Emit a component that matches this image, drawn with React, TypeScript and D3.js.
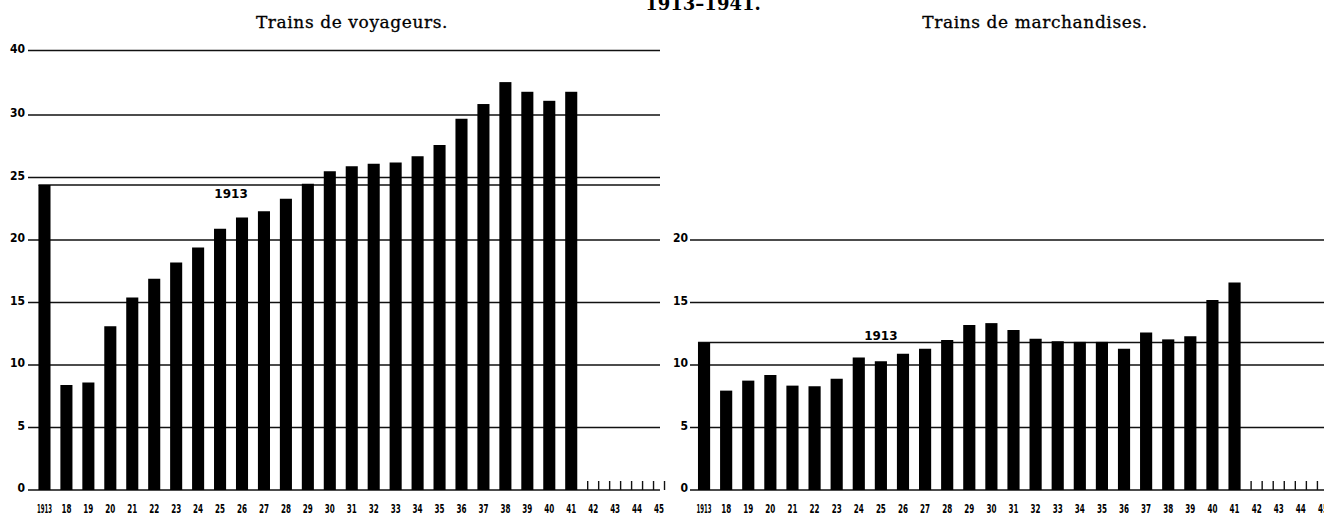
import React, { useEffect, useRef } from "react";
import * as d3 from "d3";

// Categories: 1913 then 1918..1945 (only up to 1941 carry bars)
const years = [
  "1913", "18", "19", "20", "21", "22", "23", "24", "25", "26", "27", "28", "29", "30",
  "31", "32", "33", "34", "35", "36", "37", "38", "39", "40", "41", "42", "43", "44", "45",
];
const emptyYears = ["42", "43", "44", "45"];

// Trains de voyageurs
const passengerValues = [
  24.4, 8.4, 8.6, 13.1, 15.4, 16.9, 18.2, 19.4, 20.9, 21.8, 22.3, 23.3, 24.5, 25.5,
  25.9, 26.1, 26.2, 26.7, 27.6, 29.7, 31.7, 35.1, 33.6, 32.2, 33.6,
];
const passengerTicks = [0, 5, 10, 15, 20, 25, 30, 40];
const passenger1913 = 24.4;

// Trains de marchandises
const freightValues = [
  11.8, 7.95, 8.75, 9.2, 8.35, 8.3, 8.9, 10.6, 10.3, 10.9, 11.3, 12.0, 13.2, 13.35,
  12.8, 12.1, 11.9, 11.85, 11.85, 11.3, 12.6, 12.05, 12.3, 15.2, 16.6,
];
const freightTicks = [0, 5, 10, 15, 20];
const freight1913 = 11.8;

const labelFont = "'DejaVu Sans Condensed', 'Liberation Sans Narrow', 'DejaVu Sans', sans-serif";
const titleFont = "'DejaVu Serif', 'Liberation Serif', serif";

const App = () => {
  const chartRef = useRef(null);

  useEffect(() => {
    d3.select(chartRef.current).select("svg").remove();

    const width = 1324;
    const height = 515;
    const baseY = 490;

    const svg = d3
      .select(chartRef.current)
      .append("svg")
      .attr("width", width)
      .attr("height", height)
      .style("position", "absolute")
      .style("left", "0px")
      .style("top", "0px")
      .style("background", "#fff");

    // Main title, cut at the top edge
    svg.append("text")
      .attr("x", 703)
      .attr("y", 10)
      .attr("text-anchor", "middle")
      .style("font-family", titleFont)
      .style("font-size", "18px")
      .style("font-weight", "bold")
      .text("1913–1941.");

    const drawPanel = (opts) => {
      const { title, titleX, values, ticks, yScale, xRange, gridX, labelX, ref1913, label1913, labelAbove } = opts;

      const g = svg.append("g");

      const xScale = d3.scaleBand()
        .domain(years)
        .range(xRange)
        .paddingInner(0.45)
        .paddingOuter(0.225);
      const bw = xScale.bandwidth();
      const step = xScale.step();

      g.append("text")
        .attr("x", titleX)
        .attr("y", 28)
        .attr("text-anchor", "middle")
        .style("font-family", titleFont)
        .style("font-size", "17px")
        .style("letter-spacing", "0.6px")
        .attr("stroke", "#000")
        .attr("stroke-width", 0.3)
        .text(title);

      // Grid lines and y labels
      ticks.forEach((t) => {
        const y = yScale(t);
        g.append("line")
          .attr("x1", gridX[0])
          .attr("x2", gridX[1])
          .attr("y1", y)
          .attr("y2", y)
          .attr("stroke", "#111")
          .attr("stroke-width", 1.4);
        g.append("text")
          .attr("x", labelX)
          .attr("y", y + 2)
          .attr("text-anchor", "end")
          .style("font-family", labelFont)
          .style("font-size", "12px")
          .style("font-weight", "bold")
          .text(t);
      });

      // 1913 reference line
      const y13 = yScale(ref1913);
      g.append("line")
        .attr("x1", xScale("1913"))
        .attr("x2", gridX[1])
        .attr("y1", y13)
        .attr("y2", y13)
        .attr("stroke", "#111")
        .attr("stroke-width", 1.4);
      g.append("text")
        .attr("x", xScale(label1913) + bw / 2 + opts.labelShift * step)
        .attr("y", labelAbove ? y13 - 3 : y13 + 13)
        .attr("text-anchor", "middle")
        .style("font-family", "'DejaVu Sans', sans-serif")
        .style("font-size", "12px")
        .style("font-weight", "bold")
        .text("1913");

      // Bars
      g.selectAll(".bar")
        .data(values)
        .enter()
        .append("rect")
        .attr("x", (d, i) => xScale(years[i]))
        .attr("y", (d) => yScale(d))
        .attr("width", bw)
        .attr("height", (d) => baseY - yScale(d))
        .attr("fill", "#000");

      // Small ticks for the years still to come
      emptyYears.forEach((yr) => {
        const c = xScale(yr) + bw / 2;
        [c - step / 4, c + step / 4].forEach((tx) => {
          g.append("line")
            .attr("x1", tx)
            .attr("x2", tx)
            .attr("y1", baseY)
            .attr("y2", baseY - 9)
            .attr("stroke", "#111")
            .attr("stroke-width", 1.4);
        });
      });

      // X labels
      years.forEach((yr) => {
        g.append("text")
          .attr("x", xScale(yr) + bw / 2)
          .attr("y", 513)
          .attr("text-anchor", "middle")
          .attr("textLength", yr.length === 4 ? 15 : 10)
          .attr("lengthAdjust", "spacingAndGlyphs")
          .style("font-family", labelFont)
          .style("font-size", "13px")
          .style("font-weight", "bold")
          .text(yr);
      });
    };

    drawPanel({
      title: "Trains de voyageurs.",
      titleX: 352,
      values: passengerValues,
      ticks: passengerTicks,
      yScale: d3.scaleLinear().domain([0, 30, 40]).range([baseY, 115, 50.5]),
      xRange: [33.5, 670],
      gridX: [28, 660],
      labelX: 25,
      ref1913: passenger1913,
      label1913: "25",
      labelShift: 0.5,
      labelAbove: false,
    });

    drawPanel({
      title: "Trains de marchandises.",
      titleX: 1035,
      values: freightValues,
      ticks: freightTicks,
      yScale: d3.scaleLinear().domain([0, 20]).range([baseY, 240]),
      xRange: [693, 1334],
      gridX: [690, 1324],
      labelX: 688,
      ref1913: freight1913,
      label1913: "25",
      labelShift: 0,
      labelAbove: true,
    });
  }, []);

  return <div ref={chartRef}></div>;
};

export default App;
